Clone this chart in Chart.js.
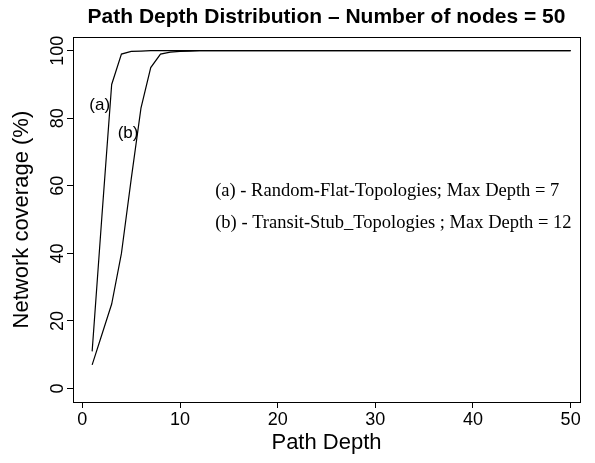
<!DOCTYPE html>
<html>
<head>
<meta charset="utf-8">
<script src="https://cdn.jsdelivr.net/npm/chart.js@4/dist/chart.umd.min.js"></script>
<style>
  html, body { margin: 0; padding: 0; background: #fff; }
  #wrap { width: 595px; height: 463px; }
</style>
</head>
<body>
<div id="wrap"><canvas id="c" width="595" height="463"></canvas></div>
<script>
// Path depth (hops from the source)
const depth = [1, 2, 3, 4, 5, 6, 7, 8, 9, 10,
  11, 12, 13, 14, 15, 16, 17, 18, 19, 20,
  21, 22, 23, 24, 25, 26, 27, 28, 29, 30,
  31, 32, 33, 34, 35, 36, 37, 38, 39, 40,
  41, 42, 43, 44, 45, 46, 47, 48, 49, 50];

// (a) Random-Flat topologies: cumulative network coverage (%)
const coverageFlat = [11, 51, 90, 99, 99.8, 99.9, 100, 100, 100, 100,
  100, 100, 100, 100, 100, 100, 100, 100, 100, 100,
  100, 100, 100, 100, 100, 100, 100, 100, 100, 100,
  100, 100, 100, 100, 100, 100, 100, 100, 100, 100,
  100, 100, 100, 100, 100, 100, 100, 100, 100, 100];

// (b) Transit-Stub topologies: cumulative network coverage (%)
const coverageTransit = [7, 16, 25, 40, 62, 83, 95, 99, 99.6, 99.8,
  99.9, 100, 100, 100, 100, 100, 100, 100, 100, 100,
  100, 100, 100, 100, 100, 100, 100, 100, 100, 100,
  100, 100, 100, 100, 100, 100, 100, 100, 100, 100,
  100, 100, 100, 100, 100, 100, 100, 100, 100, 100];

const xTicks = [0, 10, 20, 30, 40, 50];
const yTicks = [0, 20, 40, 60, 80, 100];

const curveNames = ['(a)', '(b)'];
const legendLines = [
  '(a) - Random-Flat-Topologies; Max Depth = 7',
  '(b) - Transit-Stub_Topologies ; Max Depth = 12'
];

const SANS = '"Liberation Sans", Arial, Helvetica, sans-serif';
const SERIF = '"Liberation Serif", "Times New Roman", serif';

const toPoints = vals => depth.map((d, i) => ({ x: d, y: vals[i] }));

// Closed frame around the plotting region
const frame = {
  id: 'frame',
  afterDatasetsDraw(chart) {
    const { ctx, chartArea: a } = chart;
    ctx.save();
    ctx.strokeStyle = '#000';
    ctx.lineWidth = 1;
    ctx.strokeRect(Math.round(a.left) + 0.5, Math.round(a.top) + 0.5,
      Math.round(a.right - a.left), Math.round(a.bottom - a.top));
    ctx.restore();
  }
};

// Curve tags and the explanatory text, anchored in data coordinates
const notes = {
  id: 'notes',
  afterDatasetsDraw(chart) {
    const { ctx, scales: { x, y } } = chart;
    ctx.save();
    ctx.fillStyle = '#000';
    ctx.textBaseline = 'middle';
    ctx.textAlign = 'center';
    ctx.font = '17px ' + SANS;
    ctx.fillText(curveNames[0], x.getPixelForValue(1.77), y.getPixelForValue(83.7));
    ctx.fillText(curveNames[1], x.getPixelForValue(4.68), y.getPixelForValue(75.4));
    ctx.textAlign = 'left';
    ctx.font = '18.5px ' + SERIF;
    ctx.fillText(legendLines[0], x.getPixelForValue(13.6), y.getPixelForValue(58.5));
    ctx.fillText(legendLines[1], x.getPixelForValue(13.6), y.getPixelForValue(49));
    ctx.restore();
  }
};

new Chart(document.getElementById('c'), {
  type: 'line',
  data: {
    datasets: [
      { label: curveNames[0], data: toPoints(coverageFlat) },
      { label: curveNames[1], data: toPoints(coverageTransit) }
    ]
  },
  options: {
    responsive: false,
    animation: false,
    devicePixelRatio: 1,
    layout: { padding: { left: 0, right: 15, top: 0, bottom: 0 } },
    elements: {
      line: { borderColor: '#000', borderWidth: 1.2, tension: 0, fill: false },
      point: { radius: 0, hoverRadius: 0 }
    },
    plugins: {
      legend: { display: false },
      tooltip: { enabled: false },
      title: {
        display: true,
        fullSize: false,
        text: 'Path Depth Distribution \u2013 Number of nodes = 50',
        color: '#000',
        font: { family: SANS, size: 21, weight: 'bold' },
        padding: { top: 5, bottom: 7 }
      }
    },
    scales: {
      x: {
        type: 'linear',
        min: -0.96,
        max: 50.96,
        afterBuildTicks: s => { s.ticks = xTicks.map(v => ({ value: v })); },
        afterFit: s => { s.height = 61; },
        grid: { drawOnChartArea: false, drawTicks: true, tickLength: 6, color: '#000', lineWidth: 1 },
        border: { display: true, color: '#000', width: 1 },
        ticks: { color: '#000', font: { family: SANS, size: 18 }, padding: 1, maxRotation: 0, minRotation: 0 },
        title: {
          display: true, text: 'Path Depth', color: '#000',
          font: { family: SANS, size: 22 }, padding: { top: 0, bottom: 7 }
        }
      },
      y: {
        type: 'linear',
        min: -4,
        max: 104,
        afterBuildTicks: s => { s.ticks = yTicks.map(v => ({ value: v })); },
        afterFit: s => { s.width = 73; },
        grid: { drawOnChartArea: false, drawTicks: true, tickLength: 6, color: '#000', lineWidth: 1 },
        border: { display: true, color: '#000', width: 1 },
        ticks: {
          color: '#000', font: { family: SANS, size: 18 },
          minRotation: 90, maxRotation: 90, crossAlign: 'center', padding: -6
        },
        title: {
          display: true, text: 'Network coverage (%)', color: '#000',
          font: { family: SANS, size: 22 }, padding: { top: 9, bottom: 0 }
        }
      }
    }
  },
  plugins: [frame, notes]
});
</script>
</body>
</html>
